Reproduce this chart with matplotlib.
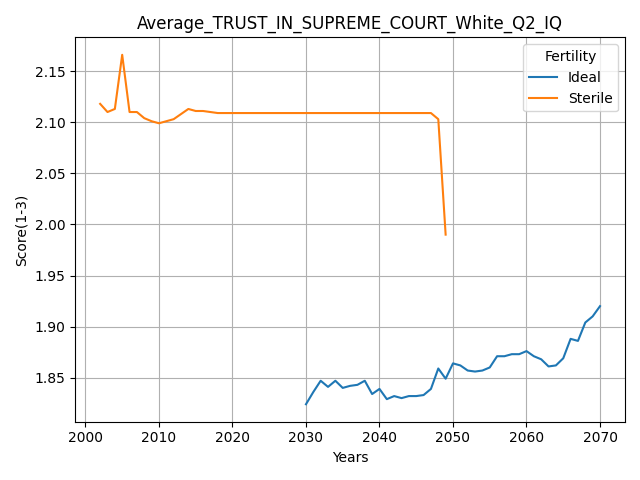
import matplotlib
matplotlib.use("Agg")
import matplotlib.pyplot as plt
import numpy as np

ideal_years = np.arange(2030, 2071)
ideal = [1.824, 1.836, 1.847, 1.841, 1.847, 1.840, 1.842, 1.843, 1.847, 1.834,
         1.839, 1.829, 1.832, 1.830, 1.832, 1.832, 1.833, 1.839, 1.859, 1.849,
         1.864, 1.862, 1.857, 1.856, 1.857, 1.860, 1.871, 1.871, 1.873, 1.873,
         1.876, 1.871, 1.868, 1.861, 1.862, 1.869, 1.888, 1.886, 1.904, 1.910,
         1.920]

sterile_years = np.arange(2002, 2050)
sterile = [2.118, 2.110, 2.113, 2.166, 2.110, 2.110, 2.104, 2.101, 2.099, 2.101,
           2.103, 2.108, 2.113, 2.111, 2.111, 2.110] + [2.109] * 30 + [2.103, 1.990]

fig, ax = plt.subplots(figsize=(6.4, 4.8), dpi=100)
ax.plot(ideal_years, ideal, label="Ideal")
ax.plot(sterile_years, sterile, label="Sterile")
ax.grid()
ax.set_xlabel("Years")
ax.set_ylabel("Score(1-3)")
ax.set_title("Average_TRUST_IN_SUPREME_COURT_White_Q2_IQ")
ax.legend(title="Fertility", loc="upper right")
fig.tight_layout()
fig.savefig("out.png")
